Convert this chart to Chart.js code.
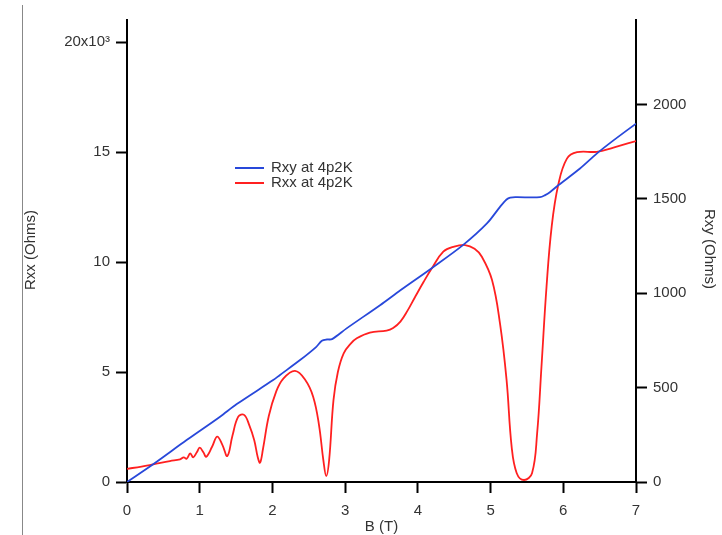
<!DOCTYPE html>
<html>
<head>
<meta charset="utf-8">
<script src="https://cdn.jsdelivr.net/npm/chart.js@4.4.0/dist/chart.umd.min.js"></script>
<style>
  body { margin: 0; background: #fff; }
  canvas { display: block; }
</style>
</head>
<body>
<canvas id="chart" width="722" height="535"></canvas>
<script>
// Rxx at 4.2 K (left axis, Ohms)
const rxxField = [0.00, 0.20, 0.36, 0.59, 0.73, 0.78, 0.82, 0.87, 0.91, 0.96, 1.00, 1.05, 1.09, 1.17, 1.24, 1.31, 1.38, 1.45, 1.53, 1.61,
  1.68, 1.75, 1.80, 1.83, 1.87, 1.95, 2.05, 2.15, 2.31, 2.45, 2.56, 2.64, 2.70, 2.74, 2.78, 2.84, 2.90, 2.98, 3.08, 3.16,
  3.34, 3.57, 3.66, 3.76, 3.86, 3.96, 4.08, 4.19, 4.35, 4.50, 4.65, 4.78, 4.88, 5.02, 5.13, 5.22, 5.29, 5.36, 5.46, 5.57,
  5.64, 5.70, 5.77, 5.84, 5.93, 6.05, 6.19, 6.46, 6.69, 7.00]
const rxxValues = [600, 700, 800, 950, 1030, 1120, 1060, 1300, 1120, 1350, 1560, 1350, 1150, 1600, 2060, 1700, 1180, 2100, 2970, 3050,
  2600, 1900, 1100, 880, 1500, 3000, 4100, 4700, 5050, 4650, 3880, 2600, 1000, 270, 1000, 3730, 5000, 5850, 6300, 6530,
  6790, 6880, 7000, 7290, 7800, 8400, 9100, 9700, 10470, 10700, 10770, 10600, 10240, 9180, 7200, 4640, 1600, 400, 90, 400,
  2200, 5240, 8900, 11600, 13500, 14700, 14990, 15010, 15200, 15500]

// Rxy at 4.2 K (right axis, Ohms)
const rxyField = [0.00, 0.36, 0.82, 1.28, 1.51, 2.01, 2.10, 2.38, 2.60, 2.68, 2.75, 2.82, 3.02, 3.48, 3.76, 4.19, 4.62, 4.95, 5.13, 5.22,
  5.27, 5.35, 5.68, 5.75, 5.82, 5.93, 6.23, 6.46, 6.69, 7.00]
const rxyValues = [0, 94, 222, 346, 413, 540, 566, 646, 715, 748, 755, 757, 814, 937, 1016, 1133, 1255, 1370, 1458, 1497,
  1507, 1509, 1509, 1520, 1537, 1572, 1661, 1740, 1810, 1899]

const xTicks = [0, 1, 2, 3, 4, 5, 6, 7]
const rxxTicks = [0, 5000, 10000, 15000, 20000]
const rxyTicks = [0, 500, 1000, 1500, 2000]

const FONT = 'Liberation Sans, Arial, sans-serif'
const TEXT = '#333'

const toPoints = (xs, ys) => xs.map((x, i) => ({ x: x, y: ys[i] }))

// axis titles, legend and the thin page rule on the left
const decorations = {
  id: 'decorations',
  beforeDraw(chart) {
    const ctx = chart.ctx
    ctx.save()
    ctx.strokeStyle = '#888'
    ctx.lineWidth = 1
    ctx.beginPath()
    ctx.moveTo(22.5, 5)
    ctx.lineTo(22.5, 535)
    ctx.stroke()
    ctx.restore()
  },
  afterDraw(chart) {
    const ctx = chart.ctx
    const area = chart.chartArea
    ctx.save()
    ctx.fillStyle = TEXT
    ctx.font = '15px ' + FONT
    ctx.textAlign = 'center'
    ctx.textBaseline = 'middle'

    ctx.fillText('B (T)', (area.left + area.right) / 2, 527)

    ctx.save()
    ctx.translate(31, 250)
    ctx.rotate(-Math.PI / 2)
    ctx.fillText('Rxx (Ohms)', 0, 0)
    ctx.restore()

    ctx.save()
    ctx.translate(709, 249)
    ctx.rotate(Math.PI / 2)
    ctx.fillText('Rxy (Ohms)', 0, 0)
    ctx.restore()

    // legend
    ctx.textAlign = 'left'
    chart.data.datasets.forEach((ds, i) => {
      const y = 168 + i * 15
      ctx.strokeStyle = ds.borderColor
      ctx.lineWidth = 2
      ctx.beginPath()
      ctx.moveTo(235, y)
      ctx.lineTo(264, y)
      ctx.stroke()
      ctx.fillText(ds.label, 271, y)
    })
    ctx.restore()
  }
}

const axisLine = { display: true, color: '#000', width: 2 }
const tickGrid = { drawOnChartArea: false, drawTicks: true, tickLength: 11, tickWidth: 2, tickColor: '#000' }
const tickFont = { family: FONT, size: 15 }

new Chart(document.getElementById('chart'), {
  type: 'line',
  data: {
    datasets: [{
      label: 'Rxy at 4p2K',
      data: toPoints(rxyField, rxyValues),
      yAxisID: 'yRight',
      borderColor: 'rgb(40, 72, 218)',
      borderWidth: 1.8,
      pointRadius: 0,
      tension: 0.3
    }, {
      label: 'Rxx at 4p2K',
      data: toPoints(rxxField, rxxValues),
      yAxisID: 'yLeft',
      borderColor: 'rgb(255, 32, 32)',
      borderWidth: 1.8,
      pointRadius: 0,
      tension: 0.4
    }]
  },
  options: {
    responsive: false,
    animation: false,
    layout: { padding: { top: 20, left: 0, right: 0, bottom: 0 } },
    plugins: {
      legend: { display: false },
      tooltip: { enabled: false }
    },
    scales: {
      x: {
        type: 'linear',
        position: 'bottom',
        min: 0,
        max: 7,
        afterFit(scale) { scale.height = 53 },
        afterBuildTicks(scale) { scale.ticks = xTicks.map(v => ({ value: v })) },
        border: axisLine,
        grid: tickGrid,
        ticks: { color: TEXT, font: tickFont, padding: 9, maxRotation: 0 }
      },
      yLeft: {
        type: 'linear',
        position: 'left',
        min: 0,
        max: 21000,
        afterFit(scale) { scale.width = 127 },
        afterBuildTicks(scale) { scale.ticks = rxxTicks.map(v => ({ value: v })) },
        border: axisLine,
        grid: tickGrid,
        ticks: {
          color: TEXT,
          font: tickFont,
          padding: 6,
          callback: v => (v === 20000 ? '20x10\u00B3' : String(v / 1000))
        }
      },
      yRight: {
        type: 'linear',
        position: 'right',
        min: 0,
        max: 2448,
        afterFit(scale) { scale.width = 86 },
        afterBuildTicks(scale) { scale.ticks = rxyTicks.map(v => ({ value: v })) },
        border: axisLine,
        grid: tickGrid,
        ticks: { color: TEXT, font: tickFont, padding: 6, callback: v => String(v) }
      }
    }
  },
  plugins: [decorations]
})
</script>
</body>
</html>
